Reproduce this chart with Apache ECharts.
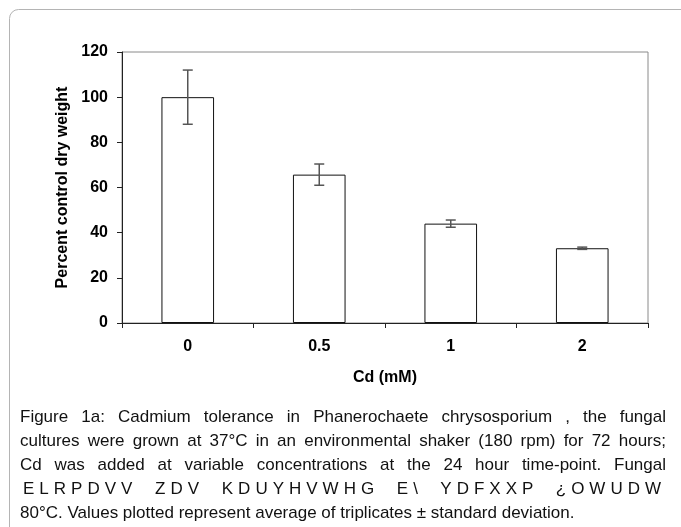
<!DOCTYPE html>
<html>
<head>
<meta charset="utf-8">
<script src="https://cdn.jsdelivr.net/npm/echarts@6/dist/echarts.min.js"></script>
<style>
  html, body { margin: 0; padding: 0; background: #fff; }
  #wrap { position: relative; width: 681px; height: 527px; overflow: hidden; }
  #chart { position: absolute; left: 0; top: 0; width: 681px; height: 527px; }
  #caption { position: absolute; left: 20px; top: 405px; width: 646px;
    font-family: "Liberation Sans", Arial, sans-serif; font-size: 17px; color: #111; }
  .ln { height: 24px; line-height: 24px; white-space: normal; overflow: hidden;
    text-align: justify; text-align-last: justify; }
  .last { text-align: left; text-align-last: left; }
  .sp { letter-spacing: 5px; padding-left: 3px; }
</style>
</head>
<body>
<div id="wrap">
  <div id="chart"></div>
  <div id="caption">
    <div class="ln">Figure 1a: Cadmium tolerance in Phanerochaete chrysosporium , the fungal</div>
    <div class="ln">cultures were grown at 37°C in an environmental shaker (180 rpm) for 72 hours;</div>
    <div class="ln">Cd was added at variable concentrations at the 24 hour time-point. Fungal</div>
    <div class="ln sp">ELRPDVV ZDV KDUYHVWHG E\ YDFXXP ¿OWUDW</div>
    <div class="ln last">80°C. Values plotted represent average of triplicates ± standard deviation.</div>
  </div>
</div>
<script>
const categories = ['0', '0.5', '1', '2'];
const meanValues = [100, 65.7, 44.0, 33.1];
const stdDevs = [12, 4.7, 1.6, 0.5];
const yTicks = [0, 20, 40, 60, 80, 100, 120];

const errorData = categories.map((c, i) => [i, meanValues[i] - stdDevs[i], meanValues[i] + stdDevs[i]]);

const chart = echarts.init(document.getElementById('chart'), null, { renderer: 'canvas' });
const font = '"Liberation Sans", Arial, sans-serif';

chart.setOption({
  animation: false,
  backgroundColor: '#fff',
  graphic: [{
    type: 'rect', z: -10,
    shape: { x: 9.5, y: 9.5, width: 720, height: 620, r: 9 },
    style: { fill: 'none', stroke: '#b4b4b4', lineWidth: 1 }
  }],
  grid: { left: 122, top: 52, right: 33, bottom: 204, show: true, borderColor: '#8a8a8a', borderWidth: 1, backgroundColor: 'transparent' },
  xAxis: {
    type: 'category', data: categories,
    name: 'Cd (mM)', nameLocation: 'middle', nameGap: 47,
    nameTextStyle: { fontFamily: font, fontWeight: 'bold', fontSize: 16, color: '#000' },
    axisLine: { lineStyle: { color: '#222', width: 1 } },
    axisTick: { show: true, length: 5, alignWithLabel: false, lineStyle: { color: '#222' } },
    axisLabel: { fontFamily: font, fontWeight: 'bold', fontSize: 16, color: '#000', margin: 16 },
    splitLine: { show: false }
  },
  yAxis: {
    type: 'value', min: 0, max: 120, interval: 20,
    name: 'Percent control dry weight', nameLocation: 'middle', nameGap: 51, nameRotate: 90,
    nameTextStyle: { fontFamily: font, fontWeight: 'bold', fontSize: 16, color: '#000' },
    axisLine: { show: true, lineStyle: { color: '#222', width: 1 } },
    axisTick: { show: true, length: 5, lineStyle: { color: '#222' } },
    axisLabel: { fontFamily: font, fontWeight: 'bold', fontSize: 16, color: '#000', margin: 14,
      formatter: v => yTicks.includes(v) ? String(v) : '' },
    splitLine: { show: false }
  },
  series: [{
    type: 'bar', data: meanValues, barWidth: '40%',
    itemStyle: { color: '#fff', borderColor: '#111', borderWidth: 1 },
    z: 2
  }, {
    type: 'custom', data: errorData, z: 5,
    renderItem: function (params, api) {
      const x = api.value(0);
      const lo = api.coord([x, api.value(1)]);
      const hi = api.coord([x, api.value(2)]);
      const cap = 5;
      const st = { stroke: '#555', lineWidth: 1.5 };
      return { type: 'group', children: [
        { type: 'line', shape: { x1: lo[0], y1: lo[1], x2: hi[0], y2: hi[1] }, style: st },
        { type: 'line', shape: { x1: lo[0] - cap, y1: lo[1], x2: lo[0] + cap, y2: lo[1] }, style: st },
        { type: 'line', shape: { x1: hi[0] - cap, y1: hi[1], x2: hi[0] + cap, y2: hi[1] }, style: st }
      ]};
    }
  }]
});
</script>
</body>
</html>
